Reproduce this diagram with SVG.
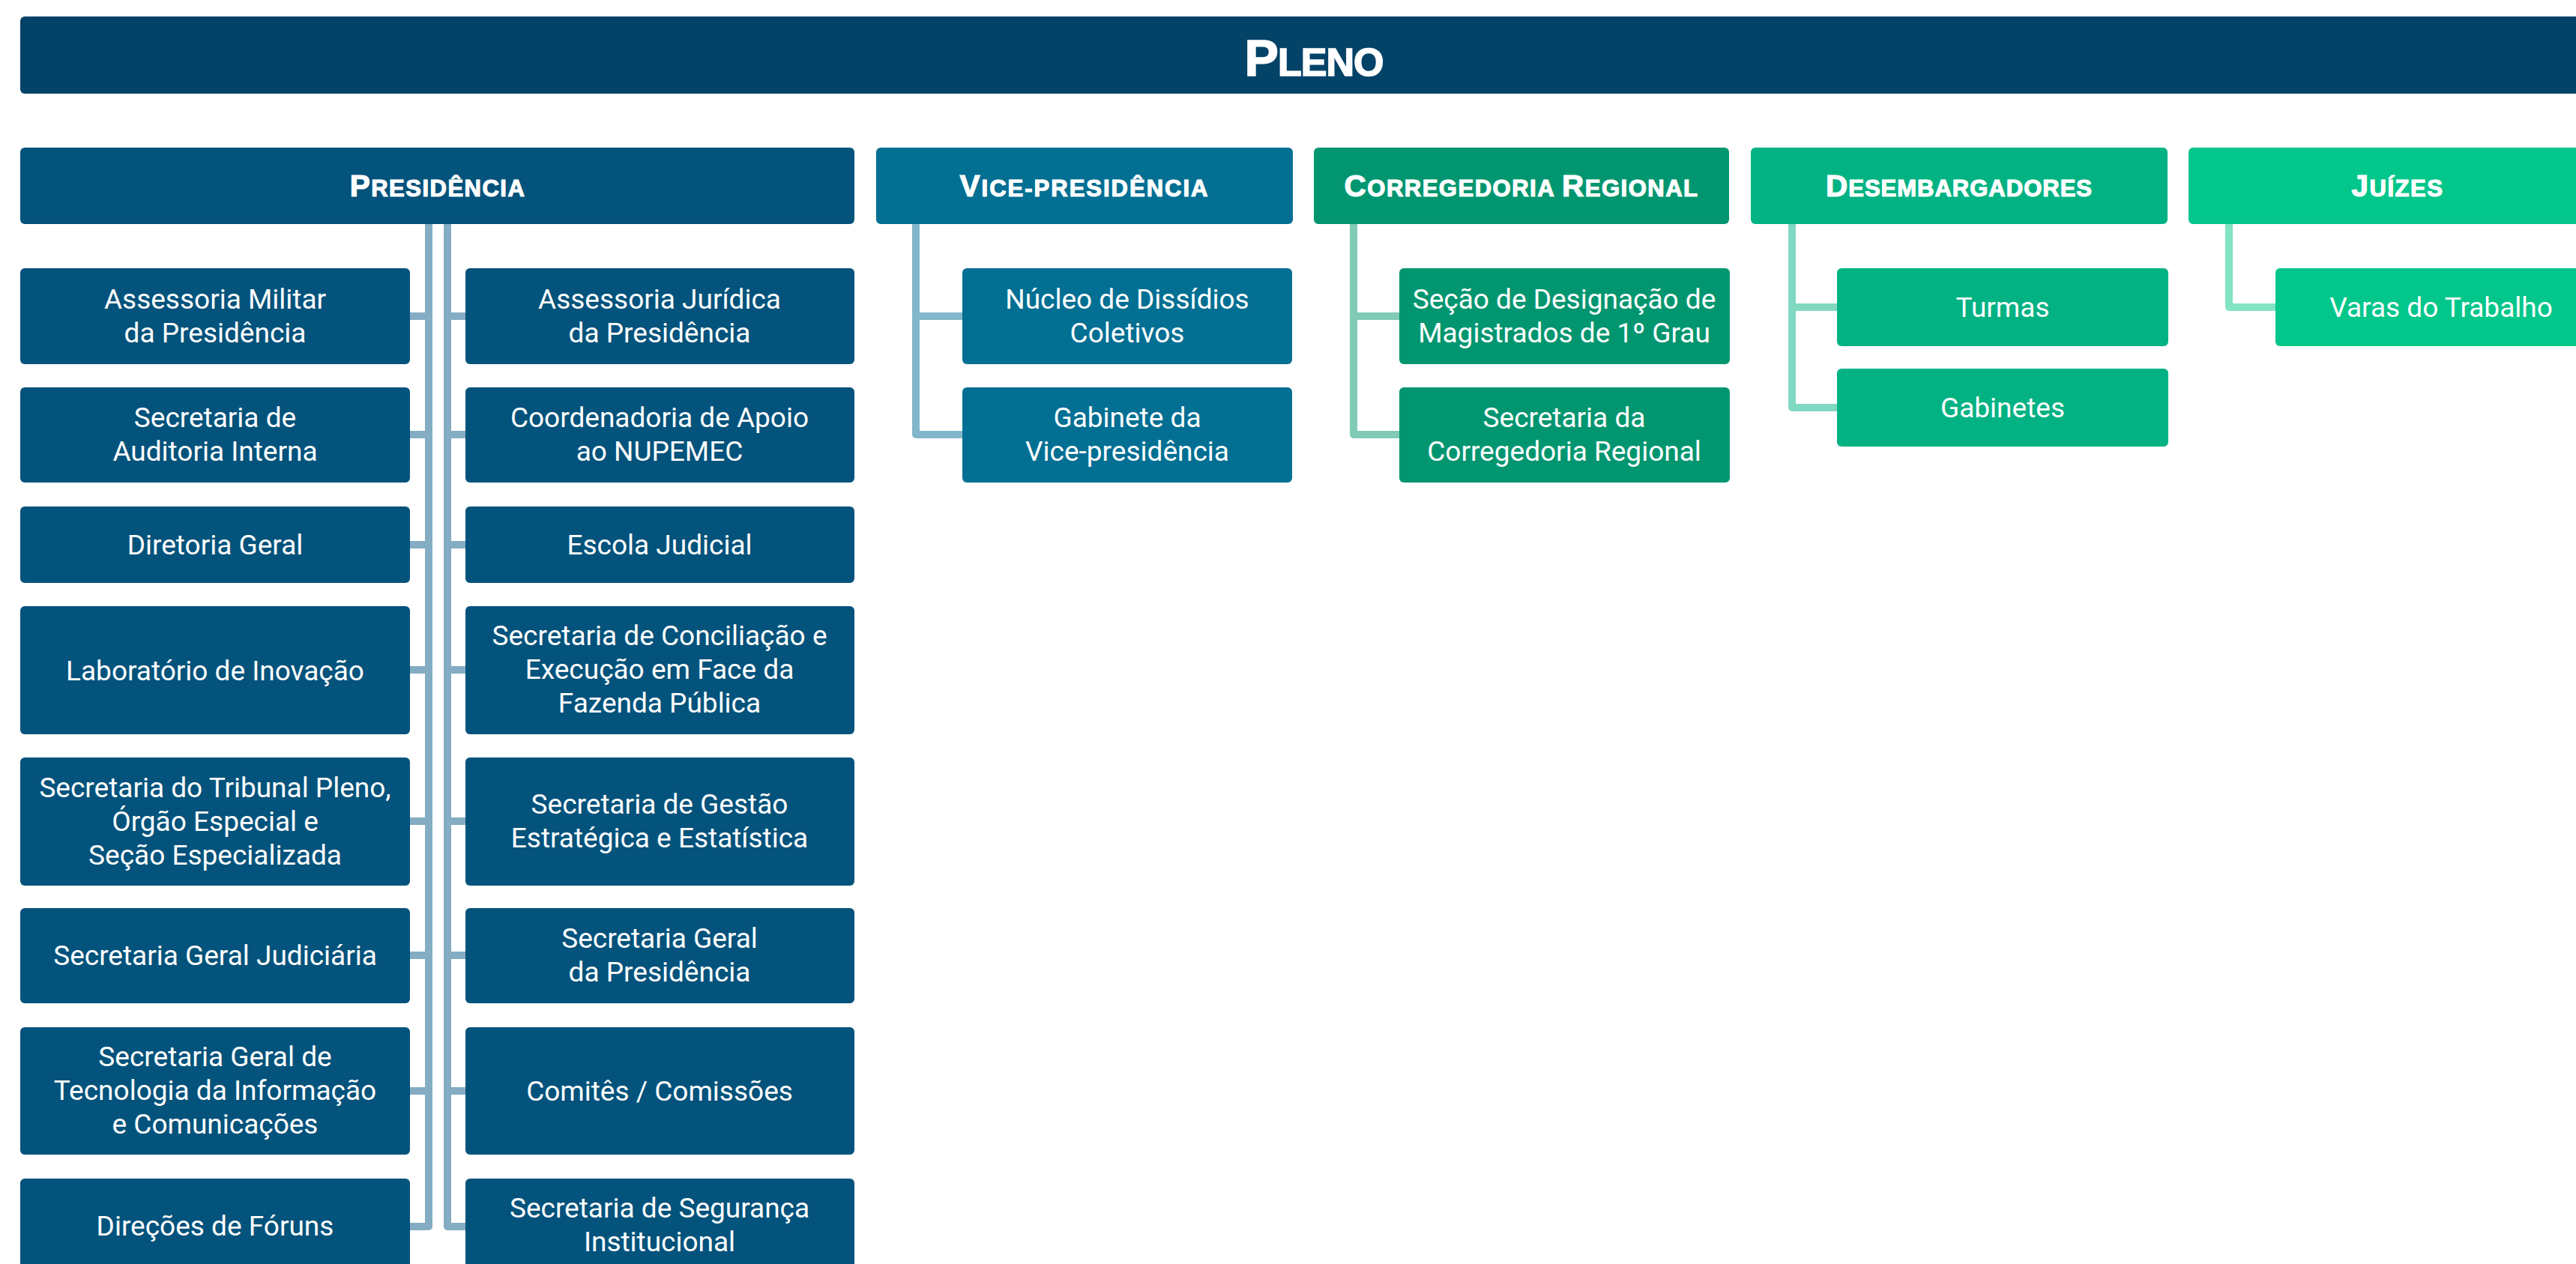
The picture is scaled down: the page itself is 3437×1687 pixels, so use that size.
<svg xmlns="http://www.w3.org/2000/svg" width="3437" height="1687" viewBox="0 0 3437 1687">
<style>
.hd{font-family:"Liberation Sans",Arial,sans-serif;font-weight:bold;fill:#fff;stroke:#fff;stroke-width:1.2px;text-anchor:middle;letter-spacing:1.5px}
.hd .b{font-size:40.5px}
.hd .s{font-size:31px}
.t{font-family:Roboto,"Noto Sans",sans-serif;font-size:37px;fill:#fff;text-anchor:middle}
.pres{fill:#03537c}
.vice{fill:#026f93}
.corr{fill:#029670}
.des{fill:#02b283}
.juiz{fill:#03c68b}
.ln{fill:none;stroke-width:10;stroke-linejoin:round}
</style>
<rect width="3437" height="1687" fill="#fff"/>
<g id="connectors">
<path class="ln" stroke="#84adc4" d="M572,299V1637H547M572,422H547M572,580H547M572,727H547M572,894H547M572,1096H547M572,1275H547M572,1456H547"/>
<path class="ln" stroke="#84adc4" d="M597,299V1637H621M597,422H621M597,580H621M597,727H621M597,894H621M597,1096H621M597,1275H621M597,1456H621"/>
<path class="ln" stroke="#82b7cb" d="M1222,299V580H1284M1222,422H1284"/>
<path class="ln" stroke="#80cab6" d="M1806,299V580H1867M1806,422H1867"/>
<path class="ln" stroke="#80d8c0" d="M2391,299V544H2451M2391,410H2451"/>
<path class="ln" stroke="#82e3c5" d="M2974,299V410H3036"/>
</g>
<g id="pleno">
<rect x="27" y="22" width="3454" height="103" rx="6" fill="#034368"/>
<text class="hd" x="1753" y="101" style="letter-spacing:-1px;stroke-width:1.6px"><tspan style="font-size:68px">P</tspan><tspan style="font-size:52px">LENO</tspan></text>
</g>
<g id="presidencia">
<rect class="pres" x="27" y="197" width="1113" height="102" rx="6"/>
<text class="hd" x="584" y="262"><tspan class="b">P</tspan><tspan class="s">RESIDÊNCIA</tspan></text>
</g>
<g id="vice-presidencia">
<rect class="vice" x="1169" y="197" width="556" height="102" rx="6"/>
<text class="hd" x="1447" y="262" style="letter-spacing:2px"><tspan class="b">V</tspan><tspan class="s">ICE-PRESIDÊNCIA</tspan></text>
</g>
<g id="corregedoria">
<rect class="corr" x="1753" y="197" width="554" height="102" rx="6"/>
<text class="hd" x="2030" y="262"><tspan class="b">C</tspan><tspan class="s">ORREGEDORIA </tspan><tspan class="b">R</tspan><tspan class="s">EGIONAL</tspan></text>
</g>
<g id="desembargadores">
<rect class="des" x="2336" y="197" width="556" height="102" rx="6"/>
<text class="hd" x="2614" y="262" style="letter-spacing:1px"><tspan class="b">D</tspan><tspan class="s">ESEMBARGADORES</tspan></text>
</g>
<g id="juizes">
<rect class="juiz" x="2920" y="197" width="558" height="102" rx="6"/>
<text class="hd" x="3199" y="262"><tspan class="b">J</tspan><tspan class="s">UÍZES</tspan></text>
</g>
<g id="assessoria-militar"><rect class="pres" x="27" y="358" width="520" height="128" rx="6"/><text class="t" x="287" y="412">Assessoria Militar<tspan x="287" dy="45">da Presidência</tspan></text></g>
<g id="secretaria-auditoria"><rect class="pres" x="27" y="517" width="520" height="127" rx="6"/><text class="t" x="287" y="570">Secretaria de<tspan x="287" dy="45">Auditoria Interna</tspan></text></g>
<g id="diretoria-geral"><rect class="pres" x="27" y="676" width="520" height="102" rx="6"/><text class="t" x="287" y="740">Diretoria Geral</text></g>
<g id="laboratorio"><rect class="pres" x="27" y="809" width="520" height="171" rx="6"/><text class="t" x="287" y="908">Laboratório de Inovação</text></g>
<g id="secretaria-tribunal"><rect class="pres" x="27" y="1011" width="520" height="171" rx="6"/><text class="t" x="287" y="1064">Secretaria do Tribunal Pleno,<tspan x="287" dy="45">Órgão Especial e</tspan><tspan x="287" dy="45">Seção Especializada</tspan></text></g>
<g id="secretaria-judiciaria"><rect class="pres" x="27" y="1212" width="520" height="127" rx="6"/><text class="t" x="287" y="1288">Secretaria Geral Judiciária</text></g>
<g id="secretaria-ti"><rect class="pres" x="27" y="1371" width="520" height="170" rx="6"/><text class="t" x="287" y="1423">Secretaria Geral de<tspan x="287" dy="45">Tecnologia da Informação</tspan><tspan x="287" dy="45">e Comunicações</tspan></text></g>
<g id="direcoes-foruns"><rect class="pres" x="27" y="1573" width="520" height="128" rx="6"/><text class="t" x="287" y="1649">Direções de Fóruns</text></g>
<g id="assessoria-juridica"><rect class="pres" x="621" y="358" width="519" height="128" rx="6"/><text class="t" x="880" y="412">Assessoria Jurídica<tspan x="880" dy="45">da Presidência</tspan></text></g>
<g id="coordenadoria-nupemec"><rect class="pres" x="621" y="517" width="519" height="127" rx="6"/><text class="t" x="880" y="570">Coordenadoria de Apoio<tspan x="880" dy="45">ao NUPEMEC</tspan></text></g>
<g id="escola-judicial"><rect class="pres" x="621" y="676" width="519" height="102" rx="6"/><text class="t" x="880" y="740">Escola Judicial</text></g>
<g id="secretaria-conciliacao"><rect class="pres" x="621" y="809" width="519" height="171" rx="6"/><text class="t" x="880" y="861">Secretaria de Conciliação e<tspan x="880" dy="45">Execução em Face da</tspan><tspan x="880" dy="45">Fazenda Pública</tspan></text></g>
<g id="secretaria-gestao"><rect class="pres" x="621" y="1011" width="519" height="171" rx="6"/><text class="t" x="880" y="1086">Secretaria de Gestão<tspan x="880" dy="45">Estratégica e Estatística</tspan></text></g>
<g id="secretaria-geral-presidencia"><rect class="pres" x="621" y="1212" width="519" height="127" rx="6"/><text class="t" x="880" y="1265">Secretaria Geral<tspan x="880" dy="45">da Presidência</tspan></text></g>
<g id="comites"><rect class="pres" x="621" y="1371" width="519" height="170" rx="6"/><text class="t" x="880" y="1469">Comitês / Comissões</text></g>
<g id="secretaria-seguranca"><rect class="pres" x="621" y="1573" width="519" height="128" rx="6"/><text class="t" x="880" y="1625">Secretaria de Segurança<tspan x="880" dy="45">Institucional</tspan></text></g>
<g id="nucleo-dissidios"><rect class="vice" x="1284" y="358" width="440" height="128" rx="6"/><text class="t" x="1504" y="412">Núcleo de Dissídios<tspan x="1504" dy="45">Coletivos</tspan></text></g>
<g id="gabinete-vice"><rect class="vice" x="1284" y="517" width="440" height="127" rx="6"/><text class="t" x="1504" y="570">Gabinete da<tspan x="1504" dy="45">Vice-presidência</tspan></text></g>
<g id="secao-designacao"><rect class="corr" x="1867" y="358" width="441" height="128" rx="6"/><text class="t" x="2087" y="412">Seção de Designação de<tspan x="2087" dy="45">Magistrados de 1º Grau</tspan></text></g>
<g id="secretaria-corregedoria"><rect class="corr" x="1867" y="517" width="441" height="127" rx="6"/><text class="t" x="2087" y="570">Secretaria da<tspan x="2087" dy="45">Corregedoria Regional</tspan></text></g>
<g id="turmas"><rect class="des" x="2451" y="358" width="442" height="104" rx="6"/><text class="t" x="2672" y="423">Turmas</text></g>
<g id="gabinetes"><rect class="des" x="2451" y="492" width="442" height="104" rx="6"/><text class="t" x="2672" y="557">Gabinetes</text></g>
<g id="varas-trabalho"><rect class="juiz" x="3036" y="358" width="442" height="104" rx="6"/><text class="t" x="3257" y="423">Varas do Trabalho</text></g>
</svg>
